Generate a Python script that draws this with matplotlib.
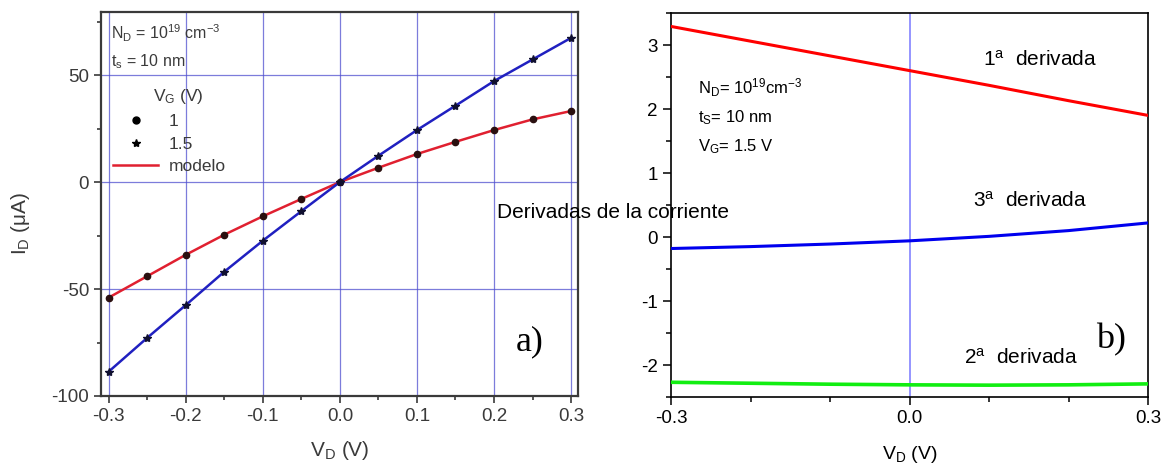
import numpy as np
import matplotlib
matplotlib.use("Agg")
import matplotlib.pyplot as plt
from matplotlib.lines import Line2D
from matplotlib.ticker import MultipleLocator

plt.rcParams['font.family'] = ['Liberation Sans', 'DejaVu Sans']
plt.rcParams['axes.unicode_minus'] = False
plt.rcParams['mathtext.fontset'] = 'custom'
plt.rcParams['mathtext.rm'] = 'Liberation Sans'
plt.rcParams['mathtext.it'] = 'Liberation Sans'

# ---- Panel a) data ----
vd_a = [-0.3, -0.25, -0.2, -0.15, -0.1, -0.05, 0.0, 0.05, 0.1, 0.15, 0.2, 0.25, 0.3]
id_vg1 = [-54, -44, -34, -24.6, -16, -7.9, 0, 6.7, 13.1, 18.8, 24.3, 29.3, 33.2]
id_vg15 = [-88.6, -72.8, -57.5, -41.9, -27.4, -13.6, 0, 12.3, 24.3, 35.7, 47.2, 57.3, 67.4]
legend_labels = ["1", "1.5", "modelo"]

# ---- Panel b) data ----
vd_b = [-0.3, -0.2, -0.1, 0.0, 0.1, 0.2, 0.3]
deriv1 = [3.29, 3.06, 2.83, 2.60, 2.37, 2.13, 1.90]
deriv3 = [-0.18, -0.15, -0.11, -0.06, 0.01, 0.10, 0.22]
deriv2 = [-2.27, -2.285, -2.30, -2.31, -2.315, -2.31, -2.295]

W, H = 1167, 472
fig = plt.figure(figsize=(W / 100, H / 100), dpi=100)

gray = '#3a3a3a'
# ================= Panel a =================
axa = fig.add_axes([101 / W, 1 - 396 / H, (578 - 101) / W, (396 - 12) / H])
axa.set_xlim(-0.31, 0.309)
axa.set_ylim(-100, 79.5)
axa.xaxis.set_major_locator(MultipleLocator(0.1))
axa.xaxis.set_minor_locator(MultipleLocator(0.05))
axa.yaxis.set_major_locator(MultipleLocator(50))
axa.yaxis.set_minor_locator(MultipleLocator(25))
axa.grid(True, which='major', color='#5050d0', lw=0.9, alpha=0.75)
axa.set_axisbelow(True)
axa.tick_params(which='both', direction='out', colors=gray, labelsize=13.5, width=1.2)
axa.tick_params(which='major', length=5)
axa.tick_params(which='minor', length=3)
axa.set_xticklabels([f"{v:.1f}" for v in axa.get_xticks()])
for s in axa.spines.values():
    s.set_color(gray)
    s.set_linewidth(1.6)

axa.plot(vd_a, id_vg1, color='#e02030', lw=1.8, zorder=3)
axa.plot(vd_a, id_vg15, color='#2020c0', lw=1.8, zorder=3)
axa.plot(vd_a, id_vg1, 'o', color='#2a1010', ms=4.5, zorder=4)
axa.plot(vd_a, id_vg15, '*', color='#101030', ms=6, zorder=4)

axa.set_xlabel(r'V$_{\mathrm{D}}$ (V)', fontsize=15, color=gray, labelpad=10)
axa.set_ylabel(r'I$_{\mathrm{D}}$ ($\mu$A)', fontsize=15, color=gray)
axa.yaxis.set_label_coords(-0.145, 0.45)

axa.text(0.02, 0.945, r'N$_{\mathrm{D}}$ = 10$^{19}$ cm$^{-3}$', transform=axa.transAxes,
         fontsize=11.5, color=gray, va='center')
axa.text(0.02, 0.87, r't$_{\mathrm{s}}$ = 10 nm', transform=axa.transAxes,
         fontsize=11.5, color=gray, va='center')

handles = [Line2D([], [], ls='none', marker='o', color='black', ms=5),
           Line2D([], [], ls='none', marker='*', color='black', ms=6),
           Line2D([], [], color='#e02030', lw=1.8)]
leg = axa.legend(handles, legend_labels, loc='upper left',
                 bbox_to_anchor=(12 / 477, (396 - 114) / 384), frameon=False, fontsize=12.5,
                 handlelength=2.6, handletextpad=0.6,
                 labelspacing=0.42, borderaxespad=0.0, borderpad=0.0)
for t in leg.get_texts():
    t.set_color(gray)
axa.text(178 / W, 1 - 97 / H, r'V$_{\mathrm{G}}$ (V)', transform=fig.transFigure,
         fontsize=12.5, color=gray, ha='center', va='center')

axa.text(530 / W, 1 - 342 / H, 'a)', transform=fig.transFigure, fontsize=26,
         family='Liberation Serif', ha='center', va='center', color='black')

# ================= Panel b =================
axb = fig.add_axes([671 / W, 1 - 397 / H, (1148 - 671) / W, (397 - 13) / H])
axb.set_xlim(-0.3, 0.3)
axb.set_ylim(-2.5, 3.5)
axb.set_xticks([-0.3, 0.0, 0.3])
axb.set_xticklabels(['-0.3', '0.0', '0.3'])
axb.xaxis.set_minor_locator(MultipleLocator(0.1))
axb.yaxis.set_major_locator(MultipleLocator(1))
axb.yaxis.set_minor_locator(MultipleLocator(0.5))
axb.tick_params(which='both', direction='out', labelsize=13.5, width=1.1, colors='black')
axb.tick_params(which='major', length=6)
axb.tick_params(which='minor', length=3.5)
for s in axb.spines.values():
    s.set_linewidth(1.2)
axb.axvline(0.0, color='#7878ff', lw=1.1, zorder=1)

axb.plot(vd_b, deriv1, color='#ff0000', lw=2.2, zorder=3)
axb.plot(vd_b, deriv3, color='#0000ee', lw=2.2, zorder=3)
axb.plot(vd_b, deriv2, color='#11ee11', lw=2.6, zorder=3)

axb.set_xlabel(r'V$_{\mathrm{D}}$ (V)', fontsize=14, labelpad=12)

axb.text(983 / W, 1 - 60 / H, r'1$^{\mathrm{a}}$  derivada', transform=fig.transFigure,
         fontsize=15, va='center', ha='left')
axb.text(973 / W, 1 - 201 / H, r'3$^{\mathrm{a}}$  derivada', transform=fig.transFigure,
         fontsize=15, va='center', ha='left')
axb.text(964 / W, 1 - 358 / H, r'2$^{\mathrm{a}}$  derivada', transform=fig.transFigure,
         fontsize=15, va='center', ha='left')
axb.text(698 / W, 1 - 88 / H, r'N$_{\mathrm{D}}$= 10$^{19}$cm$^{-3}$', transform=fig.transFigure,
         fontsize=12, va='center', ha='left')
axb.text(698 / W, 1 - 118 / H, r't$_{\mathrm{S}}$= 10 nm', transform=fig.transFigure,
         fontsize=12, va='center', ha='left')
axb.text(698 / W, 1 - 147 / H, r'V$_{\mathrm{G}}$= 1.5 V', transform=fig.transFigure,
         fontsize=12, va='center', ha='left')
axb.text(1111 / W, 1 - 340 / H, 'b)', transform=fig.transFigure, fontsize=26,
         family='Liberation Serif', ha='center', va='center', color='black')

fig.text(497 / W, 1 - 213 / H, 'Derivadas de la corriente', fontsize=15,
         ha='left', va='center', color='black', zorder=10)

fig.savefig('out.png', dpi=100)
